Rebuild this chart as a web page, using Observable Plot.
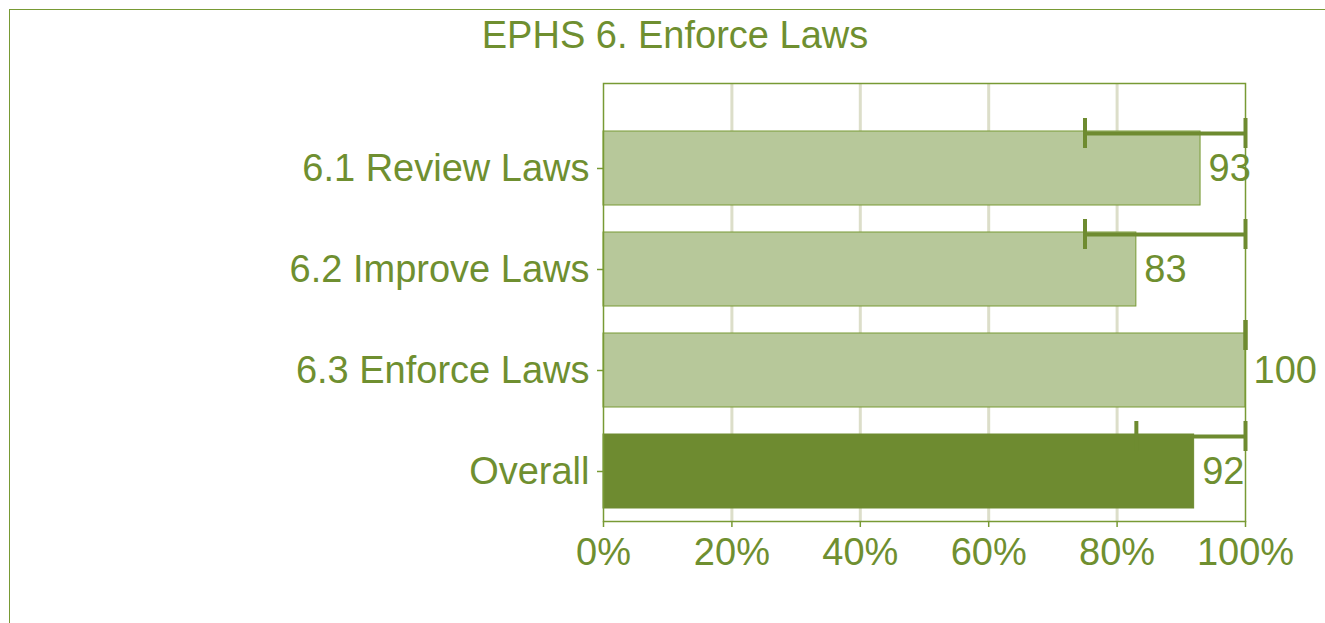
<!DOCTYPE html>
<html>
<head>
<meta charset="utf-8">
<script src="https://cdn.jsdelivr.net/npm/d3@7"></script>
<script src="https://cdn.jsdelivr.net/npm/@observablehq/plot@0.6"></script>
<style>
  html, body { margin: 0; padding: 0; background: #fff; }
  #wrap { position: relative; width: 1325px; height: 623px; overflow: hidden; font-family: "Liberation Sans", Arial, sans-serif; }
  #border { position: absolute; left: 9px; top: 9px; width: 1400px; height: 700px; border-left: 1.5px solid #789a34; border-top: 1.5px solid #789a34; box-sizing: border-box; pointer-events: none; }
  #title { position: absolute; left: 675px; top: 16px; transform: translateX(-50%); white-space: nowrap; font-size: 38px; line-height: 38px; color: #6f8f30; }
  #chart { position: absolute; left: 0; top: 0; }
</style>
</head>
<body>
<div id="wrap">
  <div id="chart"></div>
  <div id="border"></div>
  <div id="title">EPHS 6. Enforce Laws</div>
</div>
<script>
const categories = ["6.1 Review Laws", "6.2 Improve Laws", "6.3 Enforce Laws", "Overall"];
const values = [93, 83, 100, 92];
const lows = [75, 75, 100, 83];
const highs = [100, 100, 100, 100];
const xTicks = [0, 20, 40, 60, 80, 100];
const gridTicks = [20, 40, 60, 80];

const olive = "#6f8f30";
const dark = "#6e8b30";
const light = "#b7c89a";
const frameColor = "#789a34";

const data = categories.map((c, i) => ({cat: c, value: values[i], low: lows[i], high: highs[i]}));

const chart = Plot.plot({
  width: 1325,
  height: 623,
  marginLeft: 603,
  marginRight: 80,
  marginTop: 83,
  marginBottom: 102,
  style: {fontFamily: "'Liberation Sans', Arial, sans-serif", background: "transparent"},
  x: {domain: [0, 100]},
  y: {domain: categories, range: [104, 535], padding: 0.267},
  marks: [
    Plot.gridX(gridTicks, {stroke: "#dcdec9", strokeWidth: 3, strokeOpacity: 1}),
    Plot.barX(data, {
      x: "value", y: "cat",
      fill: d => d.cat === "Overall" ? dark : light,
      stroke: d => d.cat === "Overall" ? dark : frameColor,
      strokeWidth: 1
    }),
    Plot.frame({stroke: frameColor, strokeWidth: 1.5}),
    Plot.ruleY(data, {x1: "low", x2: "high", y: "cat", dy: -35, stroke: dark, strokeWidth: 4}),
    Plot.tickX(data, {x: "low", y: "cat", dy: -35, insetTop: 22, insetBottom: 22, stroke: dark, strokeWidth: 4}),
    Plot.tickX(data, {x: "high", y: "cat", dy: -35, insetTop: 22, insetBottom: 22, stroke: dark, strokeWidth: 4}),
    Plot.text(data, {x: "value", y: "cat", text: d => String(d.value), textAnchor: "start", dx: 8, fontSize: 38, fill: olive}),
    Plot.axisY({tickSize: 6, tickPadding: 8, fontSize: 38, color: olive, stroke: frameColor, strokeWidth: 1.5, label: null}),
    Plot.axisX({ticks: xTicks, tickFormat: d => d + "%", tickSize: 6, tickPadding: 11, fontSize: 38, color: olive, stroke: frameColor, strokeWidth: 1.5, label: null})
  ]
});
document.getElementById("chart").appendChild(chart);
</script>
</body>
</html>
